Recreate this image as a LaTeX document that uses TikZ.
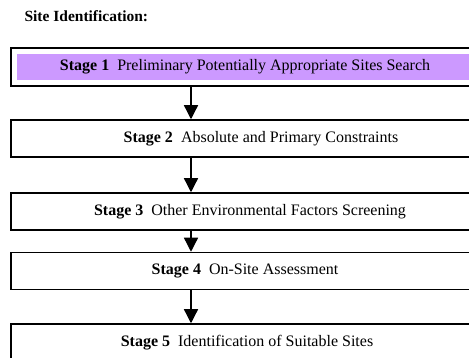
\documentclass[tikz,border=0pt]{standalone}
\usepackage{fontspec}
\setmainfont{Liberation Serif}
\usepackage{xcolor}
\usetikzlibrary{arrows.meta,positioning}
\definecolor{lilac}{HTML}{CC99FF}
\tikzset{
  stagebox/.style={draw=black,line width=1.5pt,fill=white,minimum width=474pt,minimum height=#1,
                   inner sep=0pt,font=\fontsize{16}{19}\selectfont},
  stagebox/.default=37pt,
  firstbox/.style={stagebox=38pt,path picture={\fill[lilac] ([shift={(6pt,-6pt)}]path picture bounding box.north west)
                   rectangle ([shift={(-6pt,6pt)}]path picture bounding box.south east);}},
  flow/.style={-{Triangle[width=14pt,length=14pt]},line width=1.3pt},
}
\begin{document}
\begin{tikzpicture}[x=1pt,y=-1pt]
  \useasboundingbox (0,0) rectangle (469,358);
  \clip (0,0) rectangle (469,358);
  % heading
  \node[anchor=base west,font=\fontsize{15.5}{18}\selectfont\bfseries] (title) at (21,22) {Site Identification:};
  % stages
  \node[firstbox] (s1) at (248,67) {\hspace*{-6pt}\textbf{Stage 1}\ \ Preliminary Potentially Appropriate Sites Search};
  \foreach \y/\n/\off/\txt in {138.5/2/26/Absolute and Primary Constraints,211.5/3/4/Other Environmental Factors Screening,
                               271/4/-6/On-Site Assessment,342.5/5/-2/Identification of Suitable Sites}{
    \node[stagebox] (s\n) at (248,\y) {\hspace*{\off pt}\textbf{Stage \n}\ \ \txt};
  }
  % arrows
  \coordinate (ax) at (191,0);
  \foreach \a/\b in {1/2,2/3,3/4,4/5}{ \draw[flow] (s\a.south -| ax) -- (s\b.north -| ax); }
\end{tikzpicture}
\end{document}
